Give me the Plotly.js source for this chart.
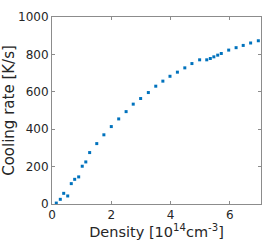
<!DOCTYPE html>
<html>
<head>
<meta charset="utf-8">
<script src="https://cdn.plot.ly/plotly-3.0.1.min.js"></script>
<style>html,body{margin:0;padding:0;background:#fff;}#chart{width:278px;height:249px;}</style>
</head>
<body>
<div id="chart"></div>
<script>
const density = [0.145,0.28,0.395,0.53,0.65,0.765,0.90,1.02,1.14,1.27,1.51,1.75,2.0,2.25,2.50,2.74,2.99,3.25,3.50,3.74,3.98,4.23,4.48,4.72,4.98,5.22,5.34,5.46,5.59,5.71,5.96,6.21,6.45,6.70,6.96];
const coolingRate = [5,25,57,43,109,132,145,202,225,275,323,370,414,455,494,534,564,596,630,657,683,705,728,751,771,771,778,787,796,805,823,836,848,861,873];
const xTicks = [0,2,4,6];
const yTicks = [0,200,400,600,800,1000];

const axisCommon = {
  showline: true, mirror: 'ticks', linecolor: '#8c8c8c', linewidth: 1,
  ticks: 'inside', ticklen: 3, tickcolor: '#8c8c8c', tickwidth: 1,
  showgrid: false, zeroline: false,
  tickfont: {family: 'DejaVu Sans', size: 12, color: '#262626'}
};
Plotly.newPlot('chart', [{
  x: density, y: coolingRate, type: 'scatter', mode: 'markers',
  marker: {symbol: 'square', size: 3, color: '#0072BD'}
}], {
  width: 278, height: 249,
  margin: {l: 52, r: 17, t: 17, b: 45},
  paper_bgcolor: '#fff', plot_bgcolor: '#fff',
  showlegend: false,
  xaxis: Object.assign({}, axisCommon, {
    range: [0, 7.05], tickvals: xTicks,
    title: {text: 'Density [10<sup>14</sup>cm<sup>-3</sup>]', font: {family: 'DejaVu Sans', size: 14.5, color: '#262626'}, standoff: 5}
  }),
  yaxis: Object.assign({}, axisCommon, {
    range: [0, 1000], tickvals: yTicks,
    title: {text: 'Cooling rate [K/s]', font: {family: 'DejaVu Sans', size: 15, color: '#262626'}, standoff: 4}
  })
}, {displayModeBar: false, staticPlot: true});
</script>
</body>
</html>
